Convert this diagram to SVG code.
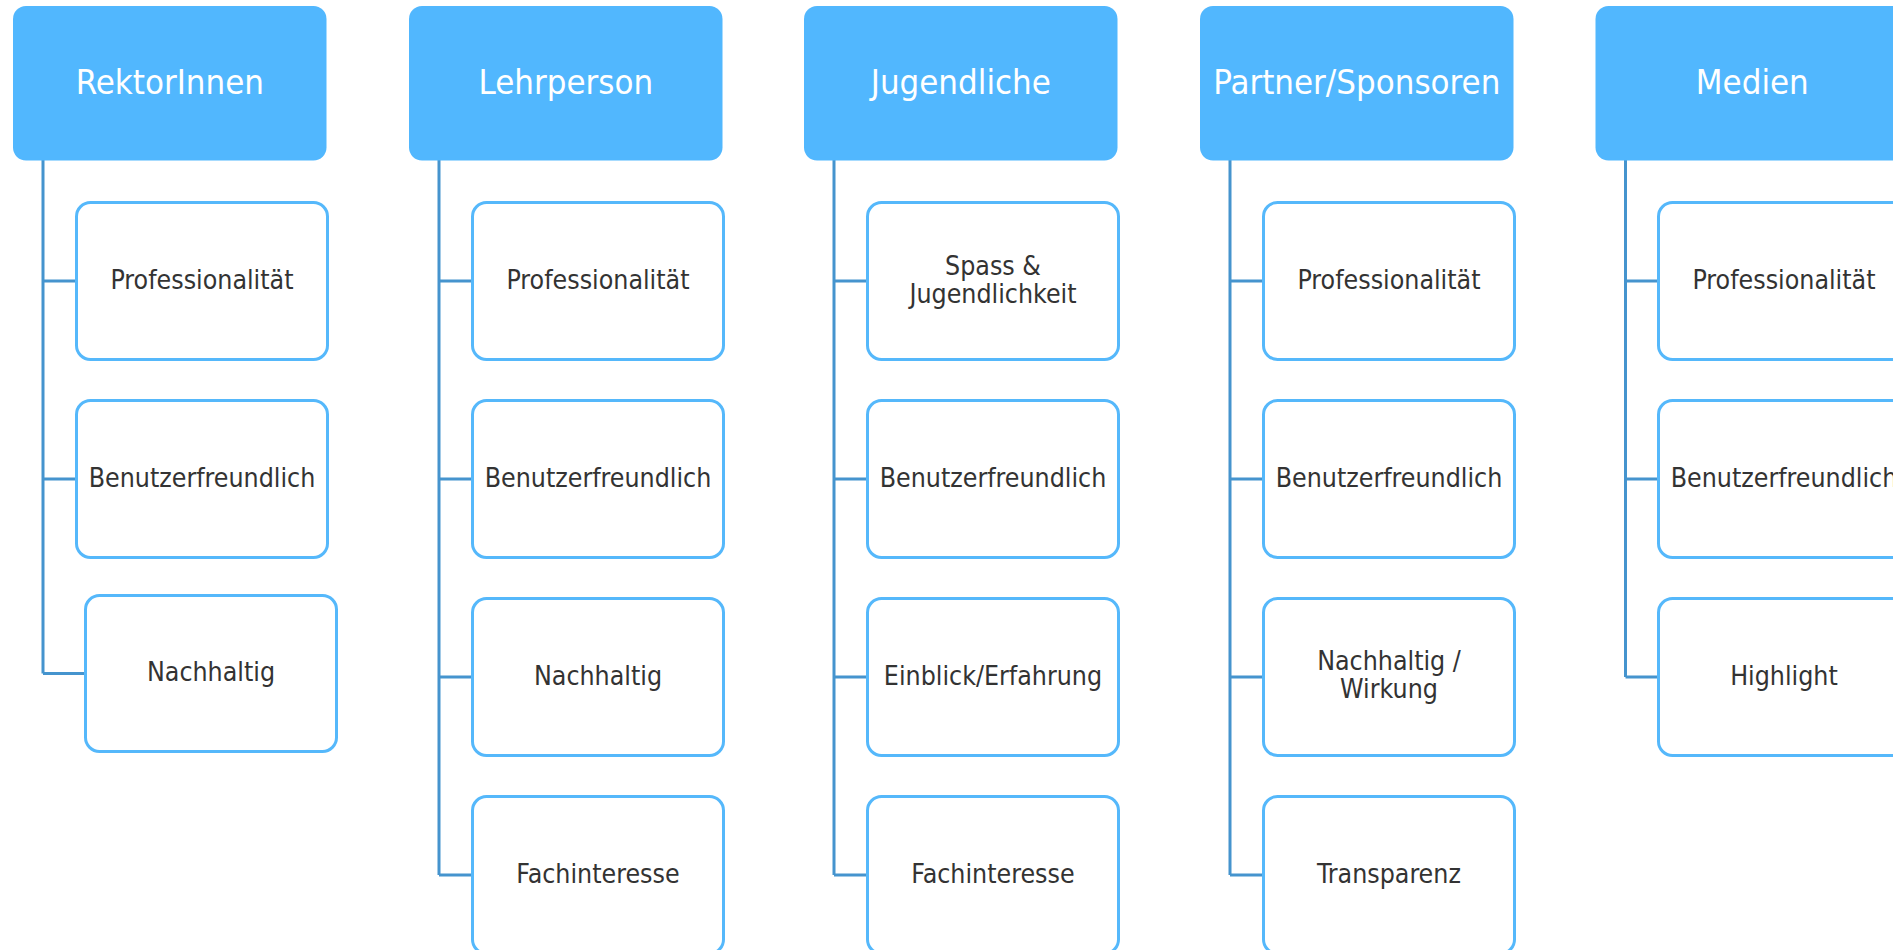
<svg xmlns="http://www.w3.org/2000/svg" width="1893" height="950" viewBox="0 0 1893 950">
<style>
.hdr{fill:#51B7FE;}
.hdr-t{fill:#FFFFFF;font-family:"DejaVu Sans Condensed","DejaVu Sans",sans-serif;font-stretch:condensed;font-size:34.5px;text-anchor:middle;}
.ch{fill:#FFFFFF;stroke:#55B8FB;stroke-width:3;}
.ch-t{fill:#333333;font-family:"DejaVu Sans Condensed","DejaVu Sans",sans-serif;font-stretch:condensed;font-size:26.5px;text-anchor:middle;}
.con{fill:none;stroke:#4594CE;stroke-width:3;}
</style>
<rect width="1893" height="950" fill="#FFFFFF"/>
<g id="connectors">
<path class="con" d="M43,160 V673.5 M43,281 H75 M43,479 H75 M43,673.5 H84"/>
<path class="con" d="M439,160 V875 M439,281 H471 M439,479 H471 M439,677 H471 M439,875 H471"/>
<path class="con" d="M834,160 V875 M834,281 H866 M834,479 H866 M834,677 H866 M834,875 H866"/>
<path class="con" d="M1230,160 V875 M1230,281 H1262 M1230,479 H1262 M1230,677 H1262 M1230,875 H1262"/>
<path class="con" d="M1625.5,160 V677 M1625.5,281 H1657 M1625.5,479 H1657 M1625.5,677 H1657"/>
</g>
<g id="n-rektorinnen">
<rect class="hdr" x="13" y="6" width="313.5" height="154.5" rx="13"/>
<text class="hdr-t" x="169.8" y="94">RektorInnen</text>
</g>
<g id="n-r-prof"><rect class="ch" x="76.5" y="202.5" width="251" height="157" rx="14"/><text class="ch-t" x="202" y="288.7">Professionalität</text></g>
<g id="n-r-benutzer"><rect class="ch" x="76.5" y="400.5" width="251" height="157" rx="14"/><text class="ch-t" x="202" y="486.7">Benutzerfreundlich</text></g>
<g id="n-r-nach"><rect class="ch" x="85.5" y="595.5" width="251" height="156" rx="14"/><text class="ch-t" x="211" y="681.2">Nachhaltig</text></g>

<g id="n-lehrperson">
<rect class="hdr" x="409" y="6" width="313.5" height="154.5" rx="13"/>
<text class="hdr-t" x="565.8" y="94">Lehrperson</text>
</g>
<g id="n-l-prof"><rect class="ch" x="472.5" y="202.5" width="251" height="157" rx="14"/><text class="ch-t" x="598" y="288.7">Professionalität</text></g>
<g id="n-l-benutzer"><rect class="ch" x="472.5" y="400.5" width="251" height="157" rx="14"/><text class="ch-t" x="598" y="486.7">Benutzerfreundlich</text></g>
<g id="n-l-nach"><rect class="ch" x="472.5" y="598.5" width="251" height="157" rx="14"/><text class="ch-t" x="598" y="684.7">Nachhaltig</text></g>
<g id="n-l-fach"><rect class="ch" x="472.5" y="796.5" width="251" height="157" rx="14"/><text class="ch-t" x="598" y="882.7">Fachinteresse</text></g>

<g id="n-jugendliche">
<rect class="hdr" x="804" y="6" width="313.5" height="154.5" rx="13"/>
<text class="hdr-t" x="960.8" y="94">Jugendliche</text>
</g>
<g id="n-j-spass"><rect class="ch" x="867.5" y="202.5" width="251" height="157" rx="14"/><text class="ch-t" x="993" y="275">Spass &amp;</text><text class="ch-t" x="993" y="303.3">Jugendlichkeit</text></g>
<g id="n-j-benutzer"><rect class="ch" x="867.5" y="400.5" width="251" height="157" rx="14"/><text class="ch-t" x="993" y="486.7">Benutzerfreundlich</text></g>
<g id="n-j-einblick"><rect class="ch" x="867.5" y="598.5" width="251" height="157" rx="14"/><text class="ch-t" x="993" y="684.7">Einblick/Erfahrung</text></g>
<g id="n-j-fach"><rect class="ch" x="867.5" y="796.5" width="251" height="157" rx="14"/><text class="ch-t" x="993" y="882.7">Fachinteresse</text></g>

<g id="n-partner">
<rect class="hdr" x="1200" y="6" width="313.5" height="154.5" rx="13"/>
<text class="hdr-t" x="1356.8" y="94">Partner/Sponsoren</text>
</g>
<g id="n-p-prof"><rect class="ch" x="1263.5" y="202.5" width="251" height="157" rx="14"/><text class="ch-t" x="1389" y="288.7">Professionalität</text></g>
<g id="n-p-benutzer"><rect class="ch" x="1263.5" y="400.5" width="251" height="157" rx="14"/><text class="ch-t" x="1389" y="486.7">Benutzerfreundlich</text></g>
<g id="n-p-nach"><rect class="ch" x="1263.5" y="598.5" width="251" height="157" rx="14"/><text class="ch-t" x="1389" y="670">Nachhaltig /</text><text class="ch-t" x="1389" y="698.3">Wirkung</text></g>
<g id="n-p-trans"><rect class="ch" x="1263.5" y="796.5" width="251" height="157" rx="14"/><text class="ch-t" x="1389" y="882.7">Transparenz</text></g>

<g id="n-medien">
<rect class="hdr" x="1595.5" y="6" width="313.5" height="154.5" rx="13"/>
<text class="hdr-t" x="1752.3" y="94">Medien</text>
</g>
<g id="n-m-prof"><rect class="ch" x="1658.5" y="202.5" width="251" height="157" rx="14"/><text class="ch-t" x="1784" y="288.7">Professionalität</text></g>
<g id="n-m-benutzer"><rect class="ch" x="1658.5" y="400.5" width="251" height="157" rx="14"/><text class="ch-t" x="1784" y="486.7">Benutzerfreundlich</text></g>
<g id="n-m-high"><rect class="ch" x="1658.5" y="598.5" width="251" height="157" rx="14"/><text class="ch-t" x="1784" y="684.7">Highlight</text></g>
</svg>
